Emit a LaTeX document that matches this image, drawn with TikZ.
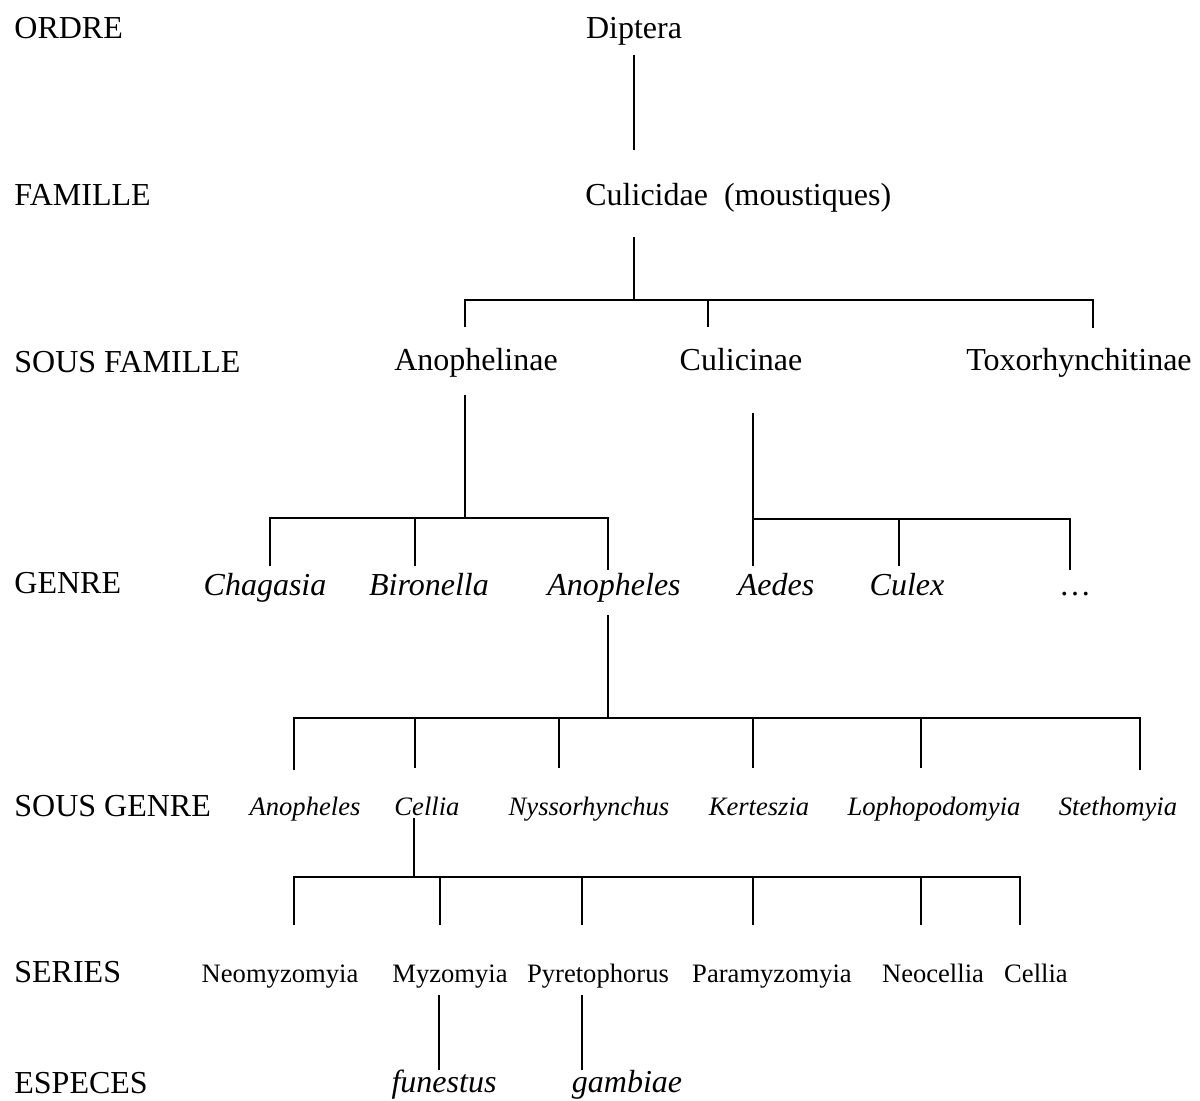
\documentclass[tikz,border=0pt]{standalone}
\usepackage{fontspec}
\setmainfont{Liberation Serif}
\begin{document}
\begin{tikzpicture}[x=0.5pt,y=-0.5pt,
  lbl/.style={anchor=base west,inner sep=0pt,font=\fontsize{16}{18}\selectfont},
  big/.style={anchor=base,inner sep=0pt,font=\fontsize{16}{18}\selectfont},
  bigit/.style={anchor=base,inner sep=0pt,font=\fontsize{16}{18}\selectfont\itshape},
  smit/.style={anchor=base,inner sep=0pt,font=\fontsize{13.3}{15}\selectfont\itshape},
  sm/.style={anchor=base,inner sep=0pt,font=\fontsize{13.3}{15}\selectfont},
  ln/.style={line width=1pt}]
\useasboundingbox (0,0) rectangle (1200,1100);
% row labels
\node[lbl] (lo) at (14,38) {ORDRE};
\node[lbl] (lf) at (14,205) {FAMILLE};
\node[lbl] (lsf) at (14,372) {SOUS FAMILLE};
\node[lbl] (lg) at (14,593) {GENRE};
\node[lbl] (lsg) at (14,816) {SOUS GENRE};
\node[lbl] (ls) at (14,982) {SERIES};
\node[lbl] (le) at (14,1093) {ESPECES};
% taxa
\node[big] (dip) at (634,38) {Diptera};
\node[lbl] (cul) at (585,205) {Culicidae\ \ (moustiques)};
\node[big] (anoph) at (476,370) {Anophelinae};
\node[big] (culic) at (741,370) {Culicinae};
\node[big] (toxo) at (1079,370) {Toxorhynchitinae};
\node[bigit] (chag) at (265,595) {Chagasia};
\node[bigit] (biro) at (429,595) {Bironella};
\node[bigit] (anop) at (614,595) {Anopheles};
\node[bigit] (aedes) at (776,595) {Aedes};
\node[bigit] (culex) at (907,595) {Culex};
\node[big] (dots) at (1075,595) {\ldots};
\node[smit] (sga) at (305,815) {Anopheles};
\node[smit] (sgc) at (427,815) {Cellia};
\node[smit] (sgn) at (589,815) {Nyssorhynchus};
\node[smit] (sgk) at (759,815) {Kerteszia};
\node[smit] (sgl) at (934,815) {Lophopodomyia};
\node[smit] (sgs) at (1118,815) {Stethomyia};
\node[sm] (s1) at (280,982) {Neomyzomyia};
\node[sm] (s2) at (450,982) {Myzomyia};
\node[sm] (s3) at (598,982) {Pyretophorus};
\node[sm] (s4) at (772,982) {Paramyzomyia};
\node[sm] (s5) at (933,982) {Neocellia};
\node[sm] (s6) at (1036,982) {Cellia};
\node[bigit] (fun) at (444,1092) {funestus};
\node[bigit] (gam) at (627,1092) {gambiae};
% connectors
\coordinate (a1) at (634,55); \coordinate (a2) at (634,150);
\draw[ln] (a1) -- (a2);
\coordinate (b1) at (634,237); \coordinate (b2) at (634,300);
\draw[ln] (b1) -- (b2);
\draw[ln] (465,327) -- (465,300) -- (1093,300) -- (1093,328);
\draw[ln] (708,300) -- (708,327);
\coordinate (c1) at (465,395); \coordinate (c2) at (465,518);
\draw[ln] (c1) -- (c2);
\draw[ln] (270,566) -- (270,518) -- (608,518) -- (608,570);
\draw[ln] (415,518) -- (415,566);
\coordinate (d1) at (753,413); \coordinate (d2) at (753,566);
\draw[ln] (d1) -- (d2);
\draw[ln] (753,519) -- (1070,519) -- (1070,570);
\draw[ln] (899,519) -- (899,566);
\coordinate (e1) at (608,615); \coordinate (e2) at (608,718);
\draw[ln] (e1) -- (e2);
\draw[ln] (294,770) -- (294,718) -- (1140,718) -- (1140,770);
\foreach \x in {415,559,753,921} \draw[ln] (\x,718) -- (\x,768);
\coordinate (f1) at (414,818); \coordinate (f2) at (414,877);
\draw[ln] (f1) -- (f2);
\draw[ln] (294,925) -- (294,877) -- (1020,877) -- (1020,925);
\foreach \x in {440,582,753,921} \draw[ln] (\x,877) -- (\x,925);
\coordinate (g1) at (439,995); \coordinate (g2) at (439,1070);
\draw[ln] (g1) -- (g2);
\coordinate (h1) at (582,995); \coordinate (h2) at (582,1070);
\draw[ln] (h1) -- (h2);
\end{tikzpicture}
\end{document}
